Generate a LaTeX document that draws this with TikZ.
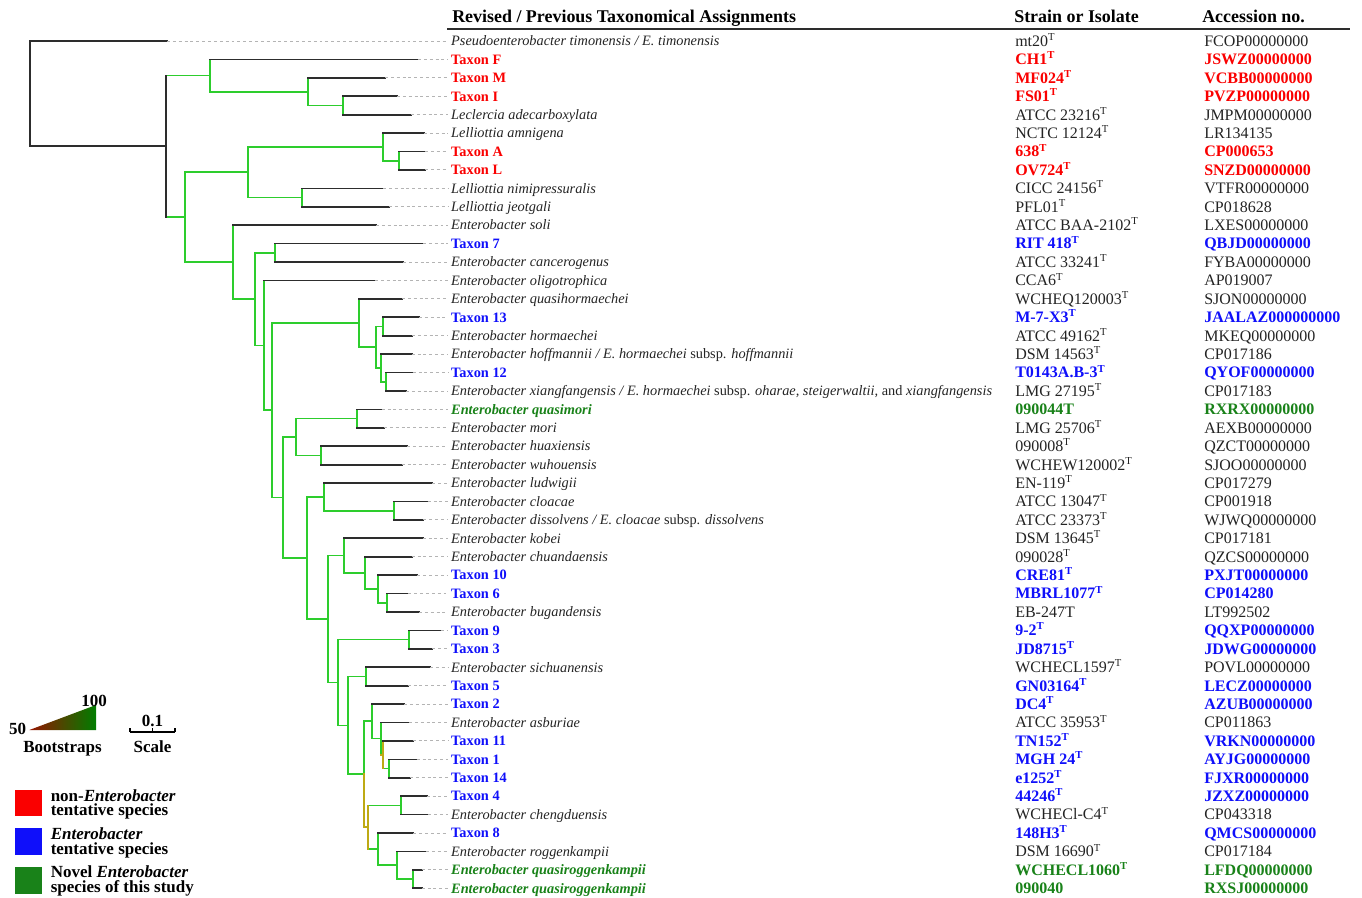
\documentclass[tikz,border=0pt]{standalone}
\usepackage{fontspec}
\setmainfont{Liberation Serif}
\definecolor{treegreen}{RGB}{45,205,45}
\definecolor{treeolive}{RGB}{190,170,20}
\definecolor{treegray}{RGB}{45,45,45}
\definecolor{guidegray}{RGB}{180,180,180}
\definecolor{txtdark}{RGB}{35,35,35}
\definecolor{txtred}{RGB}{250,0,0}
\definecolor{txtblue}{RGB}{15,15,250}
\definecolor{txtgreen}{RGB}{25,130,25}
\definecolor{bootlo}{RGB}{150,20,0}
\definecolor{bootmid}{RGB}{205,190,0}
\definecolor{boothi}{RGB}{0,125,0}
\newcommand\Tsup{\textsuperscript{T}}
\tikzset{
  leafline/.style={draw=treegray, line width=1.3pt, line cap=rect},
  boot/.style={draw=treegreen, line width=1.3pt, line cap=rect},
  bootlow/.style={draw=treeolive, line width=1.3pt, line cap=rect},
  guide/.style={draw=guidegray, line width=0.7pt, dash pattern=on 2.2pt off 2.2pt},
  taxlab/.style={anchor=west, inner xsep=2.2pt, inner ysep=0pt, text height=7.1pt, text depth=0pt, text=txtdark, font=\fontsize{10.75}{12}\selectfont},
  strainlab/.style={anchor=west, inner sep=0pt, text height=7.95pt, text depth=0pt, text=txtdark, font=\fontsize{12}{14}\selectfont},
  nonent/.style={text=txtred, execute at begin node=\bfseries},
  entsp/.style={text=txtblue, execute at begin node=\bfseries},
  novel/.style={text=txtgreen, execute at begin node=\bfseries},
  headlab/.style={anchor=west, inner sep=0pt, text height=8.9pt, text depth=0pt, text=black, font=\fontsize{13.45}{15}\selectfont\bfseries},
  legtext/.style={inner sep=0pt, text height=8.45pt, text depth=0pt, text=black, font=\fontsize{12.75}{14}\selectfont\bfseries},
  legbox/.style={draw=none, minimum size=20pt, inner sep=0pt},
}
\begin{document}
\begin{tikzpicture}[x=0.75pt,y=-0.75pt]
  \useasboundingbox (0,0) rectangle (1362,897);
  % header
  \node[headlab] (h1) at (452,17) {Revised / Previous Taxonomical Assignments};
  \node[headlab] (h2) at (1014,17) {Strain or Isolate};
  \node[headlab] (h3) at (1202,17) {Accession no.};
  \coordinate (hr1) at (447,29);
  \coordinate (hr2) at (1350,29);
  \draw[treegray, line width=1.3pt] (hr1) -- (hr2);

  % leaf tips
  \coordinate (l1) at (167,41.0);
  \coordinate (l2) at (418,59.4);
  \coordinate (l3) at (385,77.8);
  \coordinate (l4) at (397,96.3);
  \coordinate (l5) at (411,114.7);
  \coordinate (l6) at (424,133.1);
  \coordinate (l7) at (425,151.5);
  \coordinate (l8) at (425,169.9);
  \coordinate (l9) at (383,188.4);
  \coordinate (l10) at (389,206.8);
  \coordinate (l11) at (376,225.2);
  \coordinate (l12) at (423,243.6);
  \coordinate (l13) at (403,262.0);
  \coordinate (l14) at (375,280.5);
  \coordinate (l15) at (402,298.9);
  \coordinate (l16) at (419,317.3);
  \coordinate (l17) at (412,335.7);
  \coordinate (l18) at (411.7,354.1);
  \coordinate (l19) at (412.7,372.6);
  \coordinate (l20) at (406,391.0);
  \coordinate (l21) at (381.7,409.4);
  \coordinate (l22) at (384,427.8);
  \coordinate (l23) at (407,446.2);
  \coordinate (l24) at (401.7,464.7);
  \coordinate (l25) at (432.3,483.1);
  \coordinate (l26) at (427.7,501.5);
  \coordinate (l27) at (423.3,519.9);
  \coordinate (l28) at (422.7,538.3);
  \coordinate (l29) at (411.7,556.8);
  \coordinate (l30) at (417.3,575.2);
  \coordinate (l31) at (408.3,593.6);
  \coordinate (l32) at (419,612.0);
  \coordinate (l33) at (440.7,630.4);
  \coordinate (l34) at (432.3,648.8);
  \coordinate (l35) at (430,667.3);
  \coordinate (l36) at (407.7,685.7);
  \coordinate (l37) at (404,704.1);
  \coordinate (l38) at (409,722.5);
  \coordinate (l39) at (412.7,740.9);
  \coordinate (l40) at (416.7,759.4);
  \coordinate (l41) at (410,777.8);
  \coordinate (l42) at (426.7,796.2);
  \coordinate (l43) at (428.3,814.6);
  \coordinate (l44) at (413.3,833.0);
  \coordinate (l45) at (426,851.5);
  \coordinate (l46) at (421.7,869.9);
  \coordinate (l47) at (421.7,888.3);

  % inner nodes
  \coordinate (root) at (30,93.7);
  \coordinate (nA) at (166,146.35);
  \coordinate (nB) at (210,75.5);
  \coordinate (nC) at (308,91.65);
  \coordinate (nD) at (343,105.5);
  \coordinate (nE) at (185,217.2);
  \coordinate (nF) at (247.7,172.25);
  \coordinate (nG) at (382.7,146.9);
  \coordinate (nH) at (399,160.7);
  \coordinate (nI) at (302.3,197.6);
  \coordinate (nJ) at (232.7,262.15);
  \coordinate (nK) at (255,299.1);
  \coordinate (nL) at (275.3,252.8);
  \coordinate (nM) at (264,345.4);
  \coordinate (nN) at (272.3,410.3);
  \coordinate (nO) at (359,323.05);
  \coordinate (nP) at (375.7,347.2);
  \coordinate (nQ) at (383.3,326.5);
  \coordinate (nR) at (381,367.95);
  \coordinate (nS) at (386,381.8);
  \coordinate (nT) at (283,497.5);
  \coordinate (nU) at (296,437.0);
  \coordinate (nV) at (357.3,418.6);
  \coordinate (nW) at (321.3,455.45);
  \coordinate (nX) at (307.3,558.0);
  \coordinate (nY) at (324.3,496.9);
  \coordinate (nZ) at (394.3,510.7);
  \coordinate (nAA) at (327.7,619.05);
  \coordinate (nAB) at (344.3,555.6);
  \coordinate (nAC) at (365.3,572.9);
  \coordinate (nAD) at (377.7,589.0);
  \coordinate (nAE) at (386.7,602.8);
  \coordinate (nAF) at (338.3,682.5);
  \coordinate (nAG) at (409.3,639.6);
  \coordinate (nAH) at (348.3,725.4);
  \coordinate (nAI) at (365.7,676.5);
  \coordinate (nAJ) at (364.3,774.3);
  \coordinate (nAK) at (371.7,721.35);
  \coordinate (nAL) at (380.7,738.6);
  \coordinate (nAM) at (383.3,754.75);
  \coordinate (nAN) at (388.7,768.6);
  \coordinate (nAO) at (368.3,827.3);
  \coordinate (nAP) at (400.7,805.4);
  \coordinate (nAQ) at (377.7,849.15);
  \coordinate (nAR) at (396.7,865.3);
  \coordinate (nAS) at (413.3,879.1);

  % bootstrap-coloured branches
  \begin{scope}[boot]
    \draw (nB -| nA) -- (nB) (nE -| nA) -- (nE);
    \draw (l2 -| nB) -- (nC -| nB) -- (nC);
    \draw (l3 -| nC) -- (nD -| nC) -- (nD);
    \draw (l4 -| nD) -- (l5 -| nD);
    \draw (nF) -- (nF -| nE) -- (nJ -| nE) -- (nJ);
    \draw (nG) -- (nG -| nF) -- (nI -| nF) -- (nI);
    \draw (l6 -| nG) -- (nH -| nG) -- (nH);
    \draw (l7 -| nH) -- (l8 -| nH);
    \draw (l9 -| nI) -- (l10 -| nI);
    \draw (l11 -| nJ) -- (nK -| nJ) -- (nK);
    \draw (nL) -- (nL -| nK) -- (nM -| nK) -- (nM);
    \draw (l12 -| nL) -- (l13 -| nL);
    \draw (l14 -| nM) -- (nN -| nM) -- (nN);
    \draw (nO) -- (nO -| nN) -- (nT -| nN) -- (nT);
    \draw (l15 -| nO) -- (nP -| nO) -- (nP);
    \draw (nQ) -- (nQ -| nP) -- (nR -| nP) -- (nR);
    \draw (l16 -| nQ) -- (l17 -| nQ);
    \draw (l18 -| nR) -- (nS -| nR) -- (nS);
    \draw (l19 -| nS) -- (l20 -| nS);
    \draw (nU) -- (nU -| nT) -- (nX -| nT) -- (nX);
    \draw (nV) -- (nV -| nU) -- (nW -| nU) -- (nW);
    \draw (l21 -| nV) -- (l22 -| nV);
    \draw (l23 -| nW) -- (l24 -| nW);
    \draw (nY) -- (nY -| nX) -- (nAA -| nX) -- (nAA);
    \draw (l25 -| nY) -- (nZ -| nY) -- (nZ);
    \draw (l26 -| nZ) -- (l27 -| nZ);
    \draw (nAB) -- (nAB -| nAA) -- (nAF -| nAA) -- (nAF);
    \draw (l28 -| nAB) -- (nAC -| nAB) -- (nAC);
    \draw (l29 -| nAC) -- (nAD -| nAC) -- (nAD);
    \draw (l30 -| nAD) -- (nAE -| nAD) -- (nAE);
    \draw (l31 -| nAE) -- (l32 -| nAE);
    \draw (nAG) -- (nAG -| nAF) -- (nAH -| nAF) -- (nAH);
    \draw (l33 -| nAG) -- (l34 -| nAG);
    \draw (nAI) -- (nAI -| nAH) -- (nAJ -| nAH) -- (nAJ);
    \draw (l35 -| nAI) -- (l36 -| nAI);
    \draw (nAK) -- (nAK -| nAJ) -- (nAJ);
    \draw (l37 -| nAK) -- (nAL -| nAK) -- (nAL);
    \draw (l38 -| nAL) -- (nAM -| nAL);
    \draw (nAN -| nAM) -- (nAN);
    \draw (l40 -| nAN) -- (l41 -| nAN);
    \draw (nAP -| nAO) -- (nAP) (nAQ -| nAO) -- (nAQ);
    \draw (l42 -| nAP) -- (l43 -| nAP);
    \draw (l44 -| nAQ) -- (nAR -| nAQ) -- (nAR);
    \draw (l45 -| nAR) -- (nAS -| nAR) -- (nAS);
    \draw (l46 -| nAS) -- (l47 -| nAS);
  \end{scope}
  \begin{scope}[bootlow]
    \draw (nAJ) -- (nAO -| nAJ) -- (nAO);
    \draw (nAP -| nAO) -- (nAQ -| nAO);
    \draw (nAM -| nAL) -- (nAM);
    \draw (l39 -| nAM) -- (nAN -| nAM);
  \end{scope}

  % unsupported branches and leaves
  \begin{scope}[leafline]
    \draw (l1) -- (l1 -| root) -- (nA -| root) -- (nA);
    \draw (nB -| nA) -- (nE -| nA);
    \draw (l2 -| nB) -- (l2);
    \draw (l3 -| nC) -- (l3);
    \draw (l4 -| nD) -- (l4) (l5 -| nD) -- (l5);
    \draw (l6 -| nG) -- (l6);
    \draw (l7 -| nH) -- (l7) (l8 -| nH) -- (l8);
    \draw (l9 -| nI) -- (l9) (l10 -| nI) -- (l10);
    \draw (l11 -| nJ) -- (l11);
    \draw (l12 -| nL) -- (l12) (l13 -| nL) -- (l13);
    \draw (l14 -| nM) -- (l14);
    \draw (l15 -| nO) -- (l15);
    \draw (l16 -| nQ) -- (l16) (l17 -| nQ) -- (l17);
    \draw (l18 -| nR) -- (l18);
    \draw (l19 -| nS) -- (l19) (l20 -| nS) -- (l20);
    \draw (l21 -| nV) -- (l21) (l22 -| nV) -- (l22);
    \draw (l23 -| nW) -- (l23) (l24 -| nW) -- (l24);
    \draw (l25 -| nY) -- (l25);
    \draw (l26 -| nZ) -- (l26) (l27 -| nZ) -- (l27);
    \draw (l28 -| nAB) -- (l28);
    \draw (l29 -| nAC) -- (l29);
    \draw (l30 -| nAD) -- (l30);
    \draw (l31 -| nAE) -- (l31) (l32 -| nAE) -- (l32);
    \draw (l33 -| nAG) -- (l33) (l34 -| nAG) -- (l34);
    \draw (l35 -| nAI) -- (l35) (l36 -| nAI) -- (l36);
    \draw (l37 -| nAK) -- (l37);
    \draw (l38 -| nAL) -- (l38);
    \draw (l39 -| nAM) -- (l39);
    \draw (l40 -| nAN) -- (l40) (l41 -| nAN) -- (l41);
    \draw (l42 -| nAP) -- (l42) (l43 -| nAP) -- (l43);
    \draw (l44 -| nAQ) -- (l44);
    \draw (l45 -| nAR) -- (l45);
    \draw (l46 -| nAS) -- (l46) (l47 -| nAS) -- (l47);
  \end{scope}

  % taxon names
  \node[taxlab] (t1) at (448,41.0) {\textit{Pseudoenterobacter timonensis / E. timonensis}};
  \node[taxlab, nonent] (t2) at (448,59.4) {Taxon F};
  \node[taxlab, nonent] (t3) at (448,77.8) {Taxon M};
  \node[taxlab, nonent] (t4) at (448,96.3) {Taxon I};
  \node[taxlab] (t5) at (448,114.7) {\textit{Leclercia adecarboxylata}};
  \node[taxlab] (t6) at (448,133.1) {\textit{Lelliottia amnigena}};
  \node[taxlab, nonent] (t7) at (448,151.5) {Taxon A};
  \node[taxlab, nonent] (t8) at (448,169.9) {Taxon L};
  \node[taxlab] (t9) at (448,188.4) {\textit{Lelliottia nimipressuralis}};
  \node[taxlab] (t10) at (448,206.8) {\textit{Lelliottia jeotgali}};
  \node[taxlab] (t11) at (448,225.2) {\textit{Enterobacter soli}};
  \node[taxlab, entsp] (t12) at (448,243.6) {Taxon 7};
  \node[taxlab] (t13) at (448,262.0) {\textit{Enterobacter cancerogenus}};
  \node[taxlab] (t14) at (448,280.5) {\textit{Enterobacter oligotrophica}};
  \node[taxlab] (t15) at (448,298.9) {\textit{Enterobacter quasihormaechei}};
  \node[taxlab, entsp] (t16) at (448,317.3) {Taxon 13};
  \node[taxlab] (t17) at (448,335.7) {\textit{Enterobacter hormaechei}};
  \node[taxlab] (t18) at (448,354.1) {\textit{Enterobacter hoffmannii / E. hormaechei} subsp. \textit{hoffmannii}};
  \node[taxlab, entsp] (t19) at (448,372.6) {Taxon 12};
  \node[taxlab] (t20) at (448,391.0) {\textit{Enterobacter xiangfangensis / E. hormaechei} subsp. \textit{oharae, steigerwaltii,} and \textit{xiangfangensis}};
  \node[taxlab, novel] (t21) at (448,409.4) {\textit{Enterobacter quasimori}};
  \node[taxlab] (t22) at (448,427.8) {\textit{Enterobacter mori}};
  \node[taxlab] (t23) at (448,446.2) {\textit{Enterobacter huaxiensis}};
  \node[taxlab] (t24) at (448,464.7) {\textit{Enterobacter wuhouensis}};
  \node[taxlab] (t25) at (448,483.1) {\textit{Enterobacter ludwigii}};
  \node[taxlab] (t26) at (448,501.5) {\textit{Enterobacter cloacae}};
  \node[taxlab] (t27) at (448,519.9) {\textit{Enterobacter dissolvens / E. cloacae} subsp. \textit{dissolvens}};
  \node[taxlab] (t28) at (448,538.3) {\textit{Enterobacter kobei}};
  \node[taxlab] (t29) at (448,556.8) {\textit{Enterobacter chuandaensis}};
  \node[taxlab, entsp] (t30) at (448,575.2) {Taxon 10};
  \node[taxlab, entsp] (t31) at (448,593.6) {Taxon 6};
  \node[taxlab] (t32) at (448,612.0) {\textit{Enterobacter bugandensis}};
  \node[taxlab, entsp] (t33) at (448,630.4) {Taxon 9};
  \node[taxlab, entsp] (t34) at (448,648.8) {Taxon 3};
  \node[taxlab] (t35) at (448,667.3) {\textit{Enterobacter sichuanensis}};
  \node[taxlab, entsp] (t36) at (448,685.7) {Taxon 5};
  \node[taxlab, entsp] (t37) at (448,704.1) {Taxon 2};
  \node[taxlab] (t38) at (448,722.5) {\textit{Enterobacter asburiae}};
  \node[taxlab, entsp] (t39) at (448,740.9) {Taxon 11};
  \node[taxlab, entsp] (t40) at (448,759.4) {Taxon 1};
  \node[taxlab, entsp] (t41) at (448,777.8) {Taxon 14};
  \node[taxlab, entsp] (t42) at (448,796.2) {Taxon 4};
  \node[taxlab] (t43) at (448,814.6) {\textit{Enterobacter chengduensis}};
  \node[taxlab, entsp] (t44) at (448,833.0) {Taxon 8};
  \node[taxlab] (t45) at (448,851.5) {\textit{Enterobacter roggenkampii}};
  \node[taxlab, novel] (t46) at (448,869.9) {\textit{Enterobacter quasiroggenkampii}};
  \node[taxlab, novel] (t47) at (448,888.3) {\textit{Enterobacter quasiroggenkampii}};

  % strains
  \node[strainlab] (s1) at (1015,41.0) {mt20\Tsup};
  \node[strainlab, nonent] (s2) at (1015,59.4) {CH1\Tsup};
  \node[strainlab, nonent] (s3) at (1015,77.8) {MF024\Tsup};
  \node[strainlab, nonent] (s4) at (1015,96.3) {FS01\Tsup};
  \node[strainlab] (s5) at (1015,114.7) {ATCC 23216\Tsup};
  \node[strainlab] (s6) at (1015,133.1) {NCTC 12124\Tsup};
  \node[strainlab, nonent] (s7) at (1015,151.5) {638\Tsup};
  \node[strainlab, nonent] (s8) at (1015,169.9) {OV724\Tsup};
  \node[strainlab] (s9) at (1015,188.4) {CICC 24156\Tsup};
  \node[strainlab] (s10) at (1015,206.8) {PFL01\Tsup};
  \node[strainlab] (s11) at (1015,225.2) {ATCC BAA-2102\Tsup};
  \node[strainlab, entsp] (s12) at (1015,243.6) {RIT 418\Tsup};
  \node[strainlab] (s13) at (1015,262.0) {ATCC 33241\Tsup};
  \node[strainlab] (s14) at (1015,280.5) {CCA6\Tsup};
  \node[strainlab] (s15) at (1015,298.9) {WCHEQ120003\Tsup};
  \node[strainlab, entsp] (s16) at (1015,317.3) {M-7-X3\Tsup};
  \node[strainlab] (s17) at (1015,335.7) {ATCC 49162\Tsup};
  \node[strainlab] (s18) at (1015,354.1) {DSM 14563\Tsup};
  \node[strainlab, entsp] (s19) at (1015,372.6) {T0143A.B-3\Tsup};
  \node[strainlab] (s20) at (1015,391.0) {LMG 27195\Tsup};
  \node[strainlab, novel] (s21) at (1015,409.4) {090044T};
  \node[strainlab] (s22) at (1015,427.8) {LMG 25706\Tsup};
  \node[strainlab] (s23) at (1015,446.2) {090008\Tsup};
  \node[strainlab] (s24) at (1015,464.7) {WCHEW120002\Tsup};
  \node[strainlab] (s25) at (1015,483.1) {EN-119\Tsup};
  \node[strainlab] (s26) at (1015,501.5) {ATCC 13047\Tsup};
  \node[strainlab] (s27) at (1015,519.9) {ATCC 23373\Tsup};
  \node[strainlab] (s28) at (1015,538.3) {DSM 13645\Tsup};
  \node[strainlab] (s29) at (1015,556.8) {090028\Tsup};
  \node[strainlab, entsp] (s30) at (1015,575.2) {CRE81\Tsup};
  \node[strainlab, entsp] (s31) at (1015,593.6) {MBRL1077\Tsup};
  \node[strainlab] (s32) at (1015,612.0) {EB-247T};
  \node[strainlab, entsp] (s33) at (1015,630.4) {9-2\Tsup};
  \node[strainlab, entsp] (s34) at (1015,648.8) {JD8715\Tsup};
  \node[strainlab] (s35) at (1015,667.3) {WCHECL1597\Tsup};
  \node[strainlab, entsp] (s36) at (1015,685.7) {GN03164\Tsup};
  \node[strainlab, entsp] (s37) at (1015,704.1) {DC4\Tsup};
  \node[strainlab] (s38) at (1015,722.5) {ATCC 35953\Tsup};
  \node[strainlab, entsp] (s39) at (1015,740.9) {TN152\Tsup};
  \node[strainlab, entsp] (s40) at (1015,759.4) {MGH 24\Tsup};
  \node[strainlab, entsp] (s41) at (1015,777.8) {e1252\Tsup};
  \node[strainlab, entsp] (s42) at (1015,796.2) {44246\Tsup};
  \node[strainlab] (s43) at (1015,814.6) {WCHECl-C4\Tsup};
  \node[strainlab, entsp] (s44) at (1015,833.0) {148H3\Tsup};
  \node[strainlab] (s45) at (1015,851.5) {DSM 16690\Tsup};
  \node[strainlab, novel] (s46) at (1015,869.9) {WCHECL1060\Tsup};
  \node[strainlab, novel] (s47) at (1015,888.3) {090040};

  % accession numbers
  \node[strainlab] (a1) at (1204,41.0) {FCOP00000000};
  \node[strainlab, nonent] (a2) at (1204,59.4) {JSWZ00000000};
  \node[strainlab, nonent] (a3) at (1204,77.8) {VCBB00000000};
  \node[strainlab, nonent] (a4) at (1204,96.3) {PVZP00000000};
  \node[strainlab] (a5) at (1204,114.7) {JMPM00000000};
  \node[strainlab] (a6) at (1204,133.1) {LR134135};
  \node[strainlab, nonent] (a7) at (1204,151.5) {CP000653};
  \node[strainlab, nonent] (a8) at (1204,169.9) {SNZD00000000};
  \node[strainlab] (a9) at (1204,188.4) {VTFR00000000};
  \node[strainlab] (a10) at (1204,206.8) {CP018628};
  \node[strainlab] (a11) at (1204,225.2) {LXES00000000};
  \node[strainlab, entsp] (a12) at (1204,243.6) {QBJD00000000};
  \node[strainlab] (a13) at (1204,262.0) {FYBA00000000};
  \node[strainlab] (a14) at (1204,280.5) {AP019007};
  \node[strainlab] (a15) at (1204,298.9) {SJON00000000};
  \node[strainlab, entsp] (a16) at (1204,317.3) {JAALAZ000000000};
  \node[strainlab] (a17) at (1204,335.7) {MKEQ00000000};
  \node[strainlab] (a18) at (1204,354.1) {CP017186};
  \node[strainlab, entsp] (a19) at (1204,372.6) {QYOF00000000};
  \node[strainlab] (a20) at (1204,391.0) {CP017183};
  \node[strainlab, novel] (a21) at (1204,409.4) {RXRX00000000};
  \node[strainlab] (a22) at (1204,427.8) {AEXB00000000};
  \node[strainlab] (a23) at (1204,446.2) {QZCT00000000};
  \node[strainlab] (a24) at (1204,464.7) {SJOO00000000};
  \node[strainlab] (a25) at (1204,483.1) {CP017279};
  \node[strainlab] (a26) at (1204,501.5) {CP001918};
  \node[strainlab] (a27) at (1204,519.9) {WJWQ00000000};
  \node[strainlab] (a28) at (1204,538.3) {CP017181};
  \node[strainlab] (a29) at (1204,556.8) {QZCS00000000};
  \node[strainlab, entsp] (a30) at (1204,575.2) {PXJT00000000};
  \node[strainlab, entsp] (a31) at (1204,593.6) {CP014280};
  \node[strainlab] (a32) at (1204,612.0) {LT992502};
  \node[strainlab, entsp] (a33) at (1204,630.4) {QQXP00000000};
  \node[strainlab, entsp] (a34) at (1204,648.8) {JDWG00000000};
  \node[strainlab] (a35) at (1204,667.3) {POVL00000000};
  \node[strainlab, entsp] (a36) at (1204,685.7) {LECZ00000000};
  \node[strainlab, entsp] (a37) at (1204,704.1) {AZUB00000000};
  \node[strainlab] (a38) at (1204,722.5) {CP011863};
  \node[strainlab, entsp] (a39) at (1204,740.9) {VRKN00000000};
  \node[strainlab, entsp] (a40) at (1204,759.4) {AYJG00000000};
  \node[strainlab, entsp] (a41) at (1204,777.8) {FJXR00000000};
  \node[strainlab, entsp] (a42) at (1204,796.2) {JZXZ00000000};
  \node[strainlab] (a43) at (1204,814.6) {CP043318};
  \node[strainlab, entsp] (a44) at (1204,833.0) {QMCS00000000};
  \node[strainlab] (a45) at (1204,851.5) {CP017184};
  \node[strainlab, novel] (a46) at (1204,869.9) {LFDQ00000000};
  \node[strainlab, novel] (a47) at (1204,888.3) {RXSJ00000000};

  % dotted guides from tips to names
  \foreach \i in {1,...,47}
    \draw[guide] (l\i) -- (t\i.west);

  % legend: bootstrap wedge and scale bar
  \coordinate (w1) at (29.3,730);
  \coordinate (w2) at (96,730);
  \coordinate (w3) at (96,705);
  \shade[left color=bootlo, middle color=bootmid, right color=boothi] (w1) -- (w2) -- (w3) -- cycle;
  \node[legtext] (b100) at (94,700.5) {100};
  \node[legtext] (b50) at (17.5,729) {50};
  \node[legtext] (bname) at (62.5,747) {Bootstraps};
  \coordinate (sc1) at (130,731.7);
  \coordinate (sc2) at (175,731.7);
  \coordinate (sc3) at (152.5,731.7);
  \draw[black, line width=1.3pt] (sc1) -- (sc2);
  \draw[black, line width=1.1pt] (sc1) -- ++(0,-3.5) (sc3) -- ++(0,-3.5) (sc2) -- ++(0,-3.5);
  \node[legtext] (sval) at (152.5,721) {0.1};
  \node[legtext] (sname) at (152.5,747) {Scale};

  % legend: colour key
  \node[legbox, fill=txtred] (kred) at (28.3,803) {};
  \node[legbox, fill=txtblue] (kblue) at (28.3,841.7) {};
  \node[legbox, fill=txtgreen] (kgreen) at (28.3,880.5) {};
  \node[legtext, anchor=west] (kred1) at (50.5,795.7) {non-\textit{Enterobacter}};
  \node[legtext, anchor=west] (kred2) at (50.5,810.3) {tentative species};
  \node[legtext, anchor=west] (kblue1) at (50.5,833.7) {\textit{Enterobacter}};
  \node[legtext, anchor=west] (kblue2) at (50.5,848.7) {tentative species};
  \node[legtext, anchor=west] (kgreen1) at (50.5,872.3) {Novel \textit{Enterobacter}};
  \node[legtext, anchor=west] (kgreen2) at (50.5,887.3) {species of this study};
\end{tikzpicture}
\end{document}
